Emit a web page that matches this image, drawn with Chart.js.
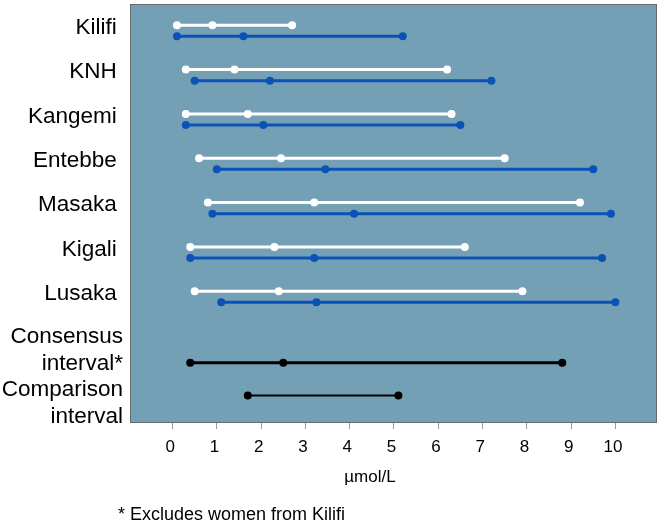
<!DOCTYPE html>
<html>
<head>
<meta charset="utf-8">
<script src="https://cdn.jsdelivr.net/npm/chart.js@4"></script>
<style>
  html, body { margin: 0; padding: 0; background: #fff; }
  #wrap { width: 661px; height: 523px; }
</style>
</head>
<body>
<div id="wrap"><canvas id="chart"></canvas></div>
<script>
// Reference intervals, [low, median, high] in µmol/L
const sites = ['Kilifi', 'KNH', 'Kangemi', 'Entebbe', 'Masaka', 'Kigali', 'Lusaka'];
const whiteRanges = [
    [0.1, 0.9, 2.7],
    [0.3, 1.4, 6.2],
    [0.3, 1.7, 6.3],
    [0.6, 2.45, 7.5],
    [0.8, 3.2, 9.2],
    [0.4, 2.3, 6.6],
    [0.5, 2.4, 7.9]
];
const blueRanges = [
    [0.1, 1.6, 5.2],
    [0.5, 2.2, 7.2],
    [0.3, 2.05, 6.5],
    [1.0, 3.45, 9.5],
    [0.9, 4.1, 9.9],
    [0.4, 3.2, 9.7],
    [1.1, 3.25, 10.0]
];
const consensusRange = [0.4, 2.5, 8.8];
const comparisonRange = [1.7, 5.1];
const xTicks = [0, 1, 2, 3, 4, 5, 6, 7, 8, 9, 10];
const rowLabels = sites.map(s => s + ' ').concat([['Consensus', 'interval*'], ['Comparison', 'interval']]);

// Row layout on the (hidden) vertical scale
const blueOffset = 0.25;
const consensusRow = 7.61;
const comparisonRow = 8.35;
const labelRows = sites.map((s, i) => i + 0.06).concat([7.33, 8.53]);

const bgColor = '#74A0B6';
const blueColor = '#0A52B8';
const font = "'Liberation Sans', Arial, sans-serif";

function rangeDataset(values, row, color, width) {
    return {
        data: values.map(v => ({ x: v, y: row })),
        showLine: true,
        borderColor: color,
        backgroundColor: color,
        borderWidth: width,
        pointRadius: 4,
        pointBorderWidth: 0,
        pointBackgroundColor: color
    };
}

const datasets = [];
sites.forEach((s, i) => {
    datasets.push(rangeDataset(whiteRanges[i], i, '#ffffff', 3));
    datasets.push(rangeDataset(blueRanges[i], i + blueOffset, blueColor, 3));
});
datasets.push(rangeDataset(consensusRange, consensusRow, '#000000', 3));
datasets.push(rangeDataset(comparisonRange, comparisonRow, '#000000', 2));

// Plot background, border, axis title and footnote
const decorations = {
    id: 'decorations',
    beforeDatasetsDraw(chart) {
        const { ctx, chartArea: a } = chart;
        ctx.save();
        ctx.fillStyle = bgColor;
        ctx.fillRect(a.left, a.top, a.right - a.left, a.bottom - a.top);
        ctx.strokeStyle = '#6a6a6a';
        ctx.lineWidth = 1;
        ctx.strokeRect(a.left + 0.5, a.top + 0.5, a.right - a.left - 1, a.bottom - a.top - 1);
        ctx.restore();
    },
    afterDraw(chart) {
        const ctx = chart.ctx;
        ctx.save();
        ctx.fillStyle = '#000';
        ctx.textBaseline = 'middle';
        ctx.textAlign = 'center';
        ctx.font = '17px ' + font;
        ctx.fillText('µmol/L', 370, 477);
        ctx.textAlign = 'left';
        ctx.font = '18px ' + font;
        ctx.fillText('* Excludes women from Kilifi', 118, 515);
        ctx.restore();
    }
};

new Chart(document.getElementById('chart'), {
    type: 'scatter',
    data: { datasets: datasets },
    options: {
        responsive: true,
        maintainAspectRatio: false,
        animation: false,
        layout: { padding: { top: 2, right: 2, left: 0, bottom: 0 } },
        plugins: {
            legend: { display: false },
            tooltip: { enabled: false }
        },
        scales: {
            x: {
                type: 'linear',
                min: -0.96,
                max: 10.94,
                afterBuildTicks: axis => { axis.ticks = xTicks.map(v => ({ value: v })); },
                afterFit: axis => {
                    axis.height = 100;
                    axis.paddingLeft = 0;
                    axis.paddingRight = 0;
                },
                grid: {
                    display: true,
                    drawOnChartArea: false,
                    drawTicks: true,
                    tickLength: 6,
                    color: '#9a9a9a'
                },
                border: { display: false },
                ticks: {
                    padding: 8,
                    color: '#000',
                    font: { family: font, size: 17 },
                    maxRotation: 0,
                    autoSkip: false,
                    callback: v => v + ' '
                }
            },
            y: {
                type: 'linear',
                reverse: true,
                min: -0.478,
                max: 8.97,
                afterBuildTicks: axis => { axis.ticks = labelRows.map(v => ({ value: v })); },
                afterFit: axis => {
                    axis.width = 130;
                    axis.paddingTop = 0;
                    axis.paddingBottom = 0;
                },
                grid: { display: false, drawTicks: false },
                border: { display: false },
                ticks: {
                    padding: 7,
                    autoSkip: false,
                    color: '#000',
                    font: { family: font, size: 22.5, lineHeight: 1.18 },
                    callback: (v, i) => rowLabels[i]
                }
            }
        }
    },
    plugins: [decorations]
});
</script>
</body>
</html>
